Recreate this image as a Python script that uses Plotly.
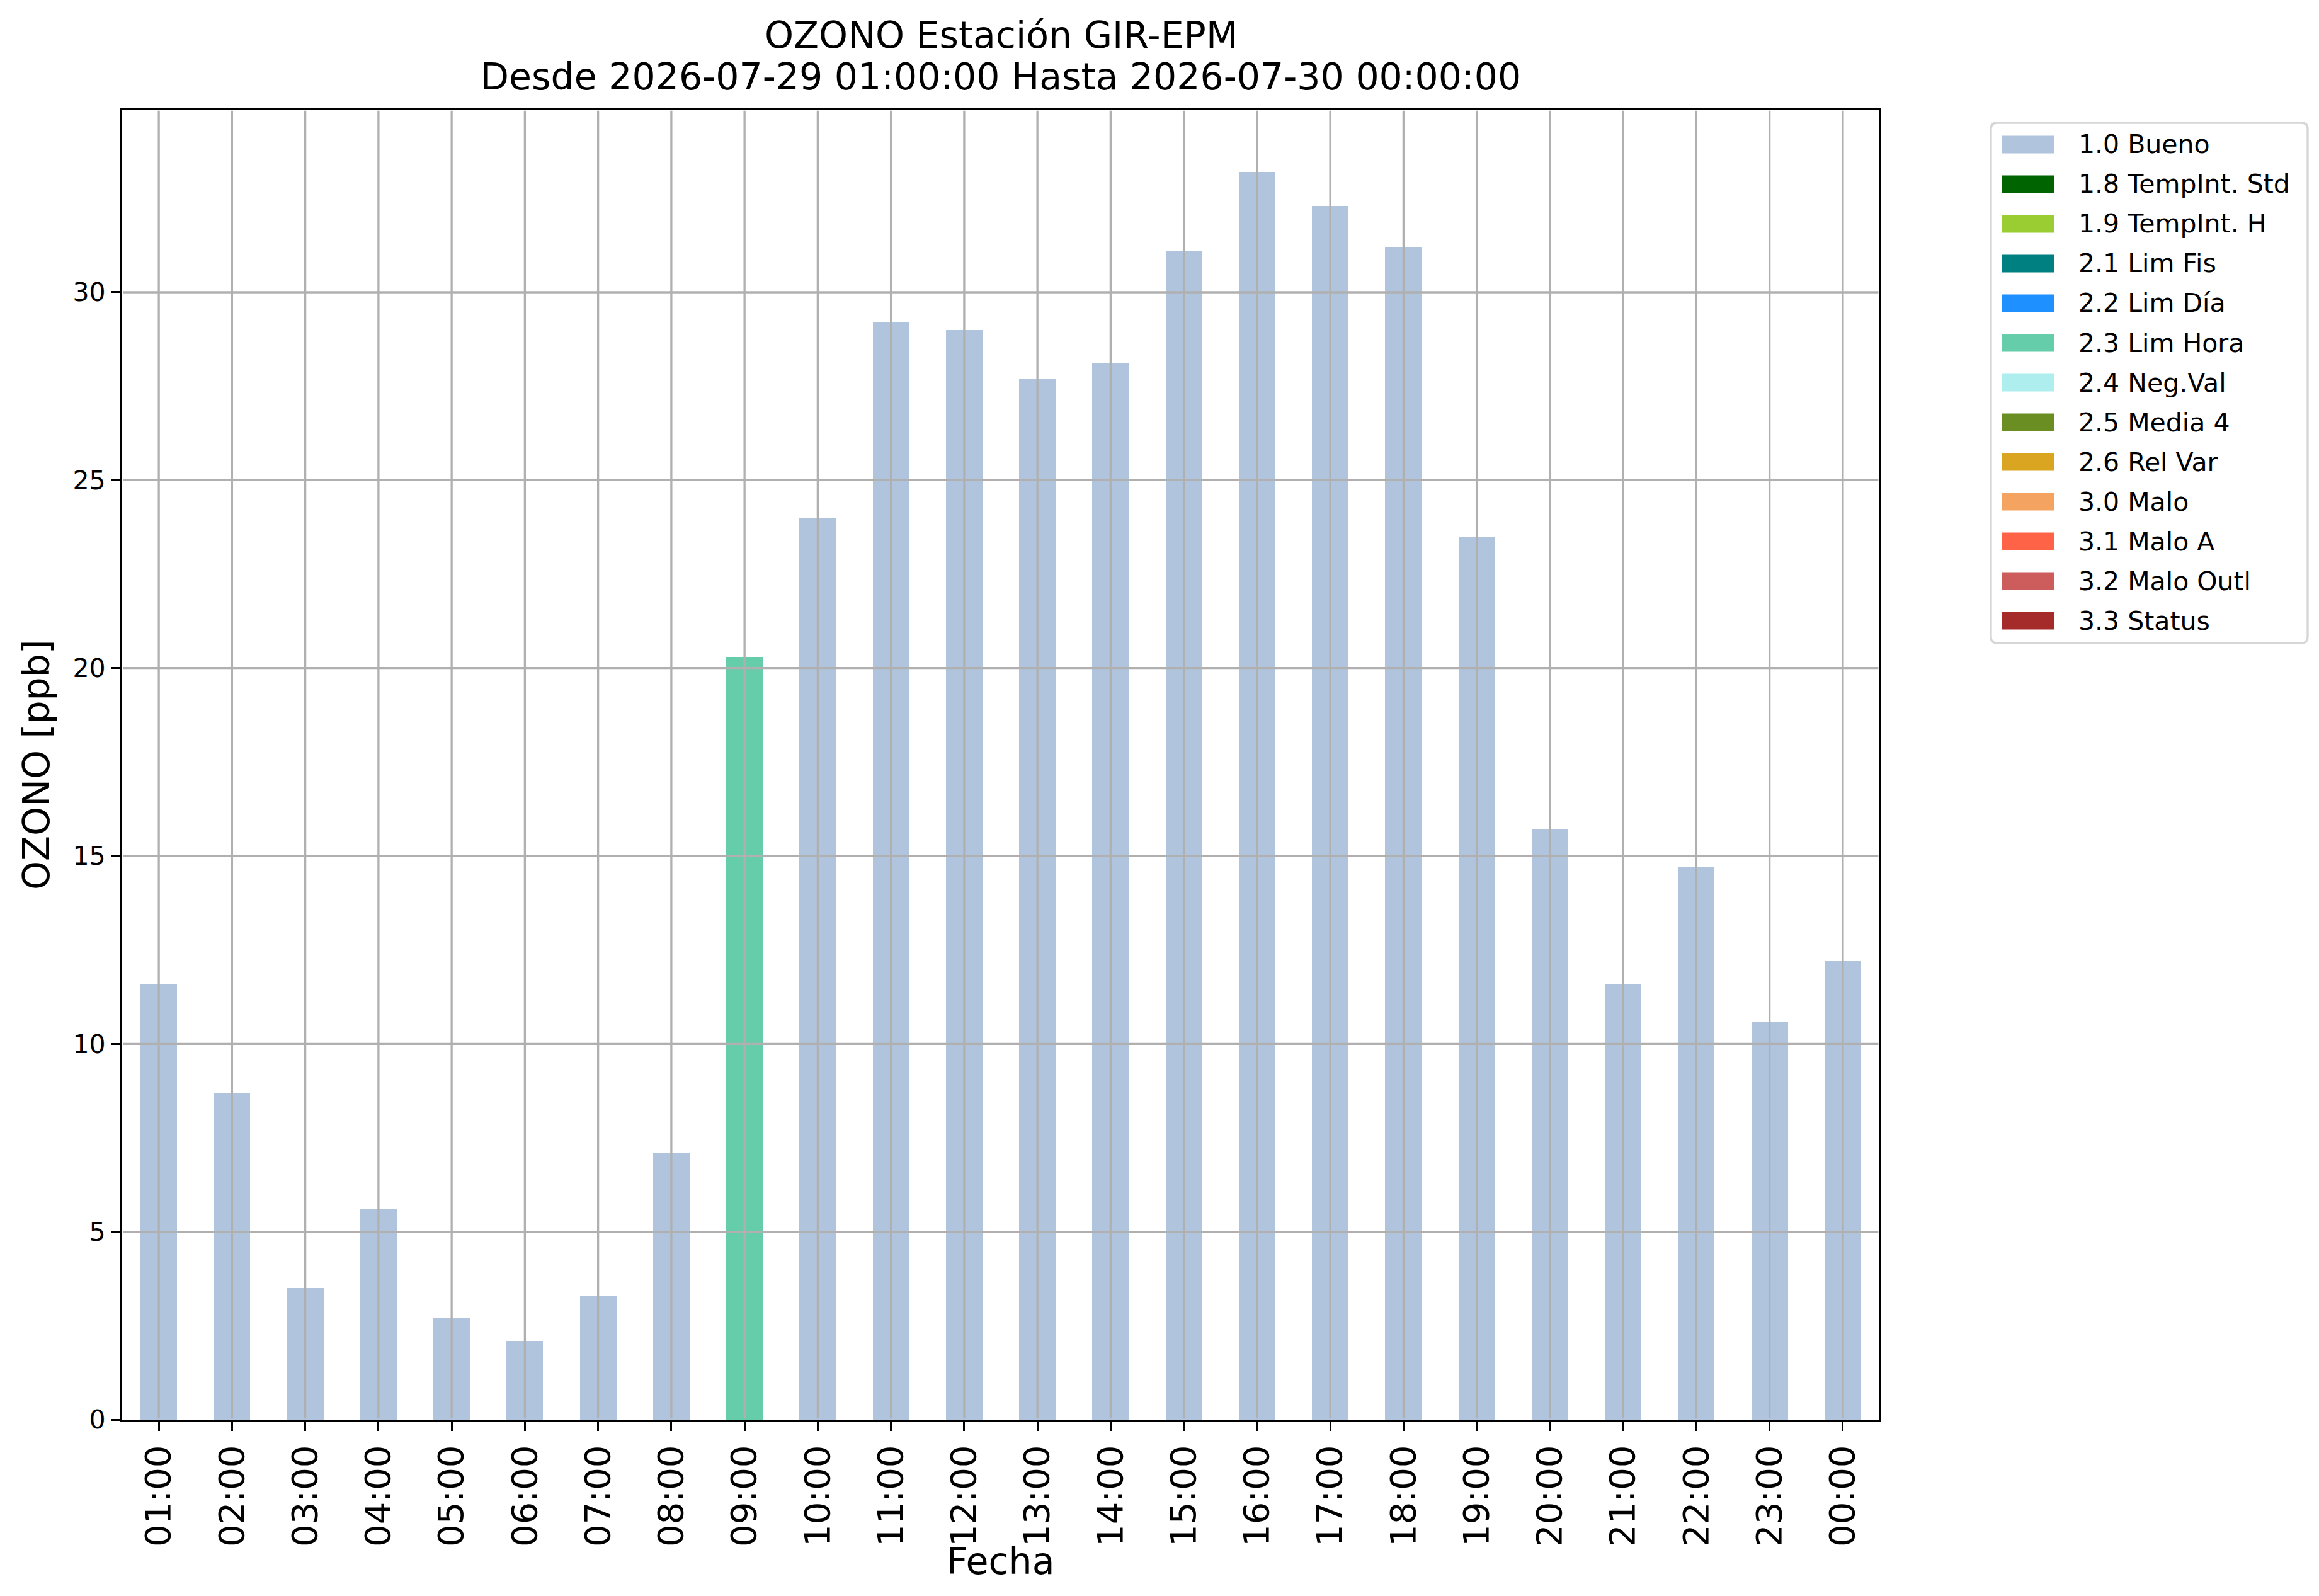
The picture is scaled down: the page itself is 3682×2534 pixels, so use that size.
import plotly.graph_objects as go

# ---------------- data ----------------
hours = ["01:00", "02:00", "03:00", "04:00", "05:00", "06:00", "07:00", "08:00",
         "09:00", "10:00", "11:00", "12:00", "13:00", "14:00", "15:00", "16:00",
         "17:00", "18:00", "19:00", "20:00", "21:00", "22:00", "23:00", "00:00"]
ozono_ppb = [11.6, 8.7, 3.5, 5.6, 2.7, 2.1, 3.3, 7.1,
             20.3, 24.0, 29.2, 29.0, 27.7, 28.1, 31.1, 33.2,
             32.3, 31.2, 23.5, 15.7, 11.6, 14.7, 10.6, 12.2]
flags = ["1.0 Bueno", "1.0 Bueno", "1.0 Bueno", "1.0 Bueno", "1.0 Bueno", "1.0 Bueno",
         "1.0 Bueno", "1.0 Bueno", "2.3 Lim Hora", "1.0 Bueno", "1.0 Bueno", "1.0 Bueno",
         "1.0 Bueno", "1.0 Bueno", "1.0 Bueno", "1.0 Bueno", "1.0 Bueno", "1.0 Bueno",
         "1.0 Bueno", "1.0 Bueno", "1.0 Bueno", "1.0 Bueno", "1.0 Bueno", "1.0 Bueno"]
flag_names = ["1.0 Bueno", "1.8 TempInt. Std", "1.9 TempInt. H", "2.1 Lim Fis",
              "2.2 Lim Día", "2.3 Lim Hora", "2.4 Neg.Val", "2.5 Media 4",
              "2.6 Rel Var", "3.0 Malo", "3.1 Malo A", "3.2 Malo Outl", "3.3 Status"]
flag_colors = ["#B0C4DE", "#006400", "#9ACD32", "#008080", "#1E90FF", "#66CDAA",
               "#AFEEEE", "#6B8E23", "#DAA520", "#F4A460", "#FF6347", "#CD5C5C",
               "#A52A2A"]
y_ticks = [0, 5, 10, 15, 20, 25, 30]
title_line1 = "OZONO Estación GIR-EPM"
title_line2 = "Desde 2026-07-29 01:00:00 Hasta 2026-07-30 00:00:00"

# ---------------- layout constants ----------------
W, H = 3682, 2534
ML, MR, MT, MB = 186, 706, 166, 288
PW, PH = W - ML - MR, H - MT - MB
FONT = "DejaVu Sans"
LW = 3.3
GRID = "#b0b0b0"
Y_MAX = 34.86


def px_x(px):
    return (px - ML) / PW


def px_y(py):
    return (H - MB - py) / PH


fig = go.Figure()
for name, color in zip(flag_names, flag_colors):
    vals = [v if f == name else None for v, f in zip(ozono_ppb, flags)]
    if all(v is None for v in vals):
        continue
    fig.add_trace(go.Bar(x=hours, y=vals, name=name, width=0.5,
                         marker=dict(color=color, line=dict(width=0)),
                         showlegend=False))

shapes = []
# grid lines drawn above bars (as in the reference)
ex = (LW / 2) / PH
for h in hours:
    shapes.append(dict(type="line", xref="x", yref="paper", x0=h, x1=h,
                       y0=ex, y1=1 - ex, layer="above",
                       line=dict(color=GRID, width=LW)))
exx = (LW / 2) / PW
for t in y_ticks[1:]:
    shapes.append(dict(type="line", xref="paper", yref="y", x0=exx, x1=1 - exx,
                       y0=t, y1=t, layer="above",
                       line=dict(color=GRID, width=LW)))

# legend (matplotlib-style) built from the flag lists
LX0, LX1, LY0, LY1, R = 3153, 3656, 187, 1013, 10
path = (f"M {px_x(LX0 + R)},{px_y(LY0)} L {px_x(LX1 - R)},{px_y(LY0)} "
        f"Q {px_x(LX1)},{px_y(LY0)} {px_x(LX1)},{px_y(LY0 + R)} "
        f"L {px_x(LX1)},{px_y(LY1 - R)} Q {px_x(LX1)},{px_y(LY1)} {px_x(LX1 - R)},{px_y(LY1)} "
        f"L {px_x(LX0 + R)},{px_y(LY1)} Q {px_x(LX0)},{px_y(LY1)} {px_x(LX0)},{px_y(LY1 - R)} "
        f"L {px_x(LX0)},{px_y(LY0 + R)} Q {px_x(LX0)},{px_y(LY0)} {px_x(LX0 + R)},{px_y(LY0)} Z")
shapes.append(dict(type="path", xref="paper", yref="paper", path=path,
                   line=dict(color="#d6d6d6", width=LW), fillcolor="white", layer="above"))
annotations = []
row0, row_step = 221.5, 63.0
for i, (name, color) in enumerate(zip(flag_names, flag_colors)):
    cy = row0 + i * row_step
    shapes.append(dict(type="rect", xref="paper", yref="paper",
                       x0=px_x(3171), x1=px_x(3254), y0=px_y(cy - 14), y1=px_y(cy + 14),
                       fillcolor=color, line=dict(width=0), layer="above"))
    annotations.append(dict(text=name, xref="paper", yref="paper", x=px_x(3290), y=px_y(cy),
                            xanchor="left", yanchor="middle", showarrow=False,
                            font=dict(family=FONT, size=41, color="black")))

# titles
annotations.append(dict(text=title_line1, xref="paper", yref="paper", x=0.5, y=px_y(48),
                        xanchor="center", yanchor="middle", showarrow=False,
                        font=dict(family=FONT, size=58.5, color="black")))
annotations.append(dict(text=title_line2, xref="paper", yref="paper", x=0.5, y=px_y(114),
                        xanchor="center", yanchor="middle", showarrow=False,
                        font=dict(family=FONT, size=58.5, color="black")))
annotations.append(dict(text="OZONO [ppb]", xref="paper", yref="paper", x=px_x(50), y=0.5,
                        xanchor="center", yanchor="middle", textangle=-90, showarrow=False,
                        font=dict(family=FONT, size=58.5, color="black")))
annotations.append(dict(text="Fecha", xref="paper", yref="paper", x=0.5, y=px_y(2471),
                        xanchor="center", yanchor="middle", showarrow=False,
                        font=dict(family=FONT, size=58.5, color="black")))

fig.update_layout(
    width=W, height=H, autosize=False,
    margin=dict(l=ML, r=MR, t=MT, b=MB, pad=0),
    paper_bgcolor="white", plot_bgcolor="white",
    barmode="stack", showlegend=False,
    font=dict(family=FONT, color="black"),
    shapes=shapes, annotations=annotations,
    xaxis=dict(type="category", categoryorder="array", categoryarray=hours,
               range=[-0.5, len(hours) - 0.5], showgrid=False, zeroline=False,
               showline=True, mirror=True, linecolor="black", linewidth=LW,
               ticks="outside", ticklen=15, tickwidth=LW, tickcolor="black",
               tickangle=-90, tickfont=dict(family=FONT, size=56, color="black")),
    yaxis=dict(range=[0, Y_MAX], tickvals=y_ticks, ticktext=[str(t) for t in y_ticks],
               showgrid=False, zeroline=False,
               showline=True, mirror=True, linecolor="black", linewidth=LW,
               ticks="outside", ticklen=15, tickwidth=LW, tickcolor="black",
               tickfont=dict(family=FONT, size=41, color="black")),
)

fig.write_html("out.html")
